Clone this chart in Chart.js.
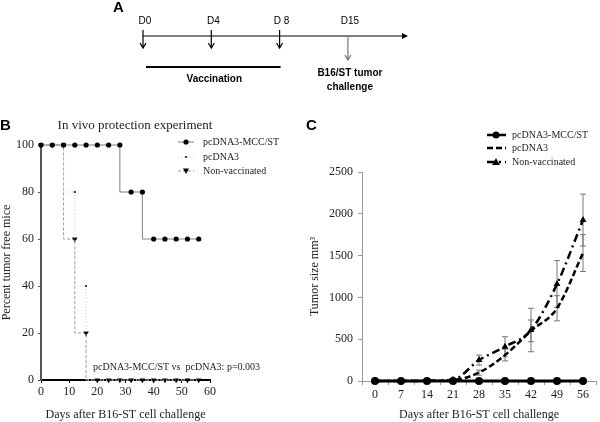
<!DOCTYPE html>
<html>
<head>
<meta charset="utf-8">
<script src="https://cdn.jsdelivr.net/npm/chart.js@4.4.0/dist/chart.umd.min.js"></script>
<style>
body { margin: 0; background: #fff; width: 600px; height: 422px; overflow: hidden; position: relative; }
canvas { position: absolute; }
</style>
</head>
<body>
<canvas id="chartA" width="600" height="110" style="left:0;top:0;width:600px;height:110px"></canvas>
<canvas id="chartB" width="300" height="312" style="left:0;top:110px;width:300px;height:312px"></canvas>
<canvas id="chartC" width="300" height="312" style="left:300px;top:110px;width:300px;height:312px"></canvas>
<script>
// --- panel A : schedule ---
const timelineLabels = ['D0', 'D4', 'D 8', 'D15'];
const vaccinationSteps = [0, 1, 2];
const challengeStep = 3;

// --- panel B : survival ---
const survivalDays = [0, 4, 8, 12, 16, 20, 24, 28, 32, 36, 40, 44, 48, 52, 56];
const mccSurvival = [100, 100, 100, 100, 100, 100, 100, 100, 80, 80, 60, 60, 60, 60, 60];
const pcSurvival = [100, 100, 100, 80, 40, 0, 0, 0, 0, 0, 0, 0, 0, 0, 0];
const nonVacSurvival = [100, 100, 100, 60, 20, 0, 0, 0, 0, 0, 0, 0, 0, 0, 0];
const survivalNote = 'pcDNA3-MCC/ST vs  pcDNA3: p=0.003';

// --- panel C : tumor growth ---
const tumorDays = ['0', '7', '14', '21', '28', '35', '42', '49', '56'];
const mccTumor = [0, 0, 0, 0, 0, 0, 0, 0, 0];
const pcTumor = [0, 0, 2, 10, 100, 310, 600, 870, 1530];
const pcErr = [0, 0, 0, 5, 30, 70, 130, 150, 220];
const nonVacTumor = [0, 0, 2, 15, 250, 410, 610, 1160, 1925];
const nonVacErr = [0, 0, 0, 5, 60, 120, 260, 280, 310];

const SERIF = "'Liberation Serif', 'Times New Roman', serif";
const SANS = "'Liberation Sans', Arial, sans-serif";

function panelLetter(ctx, t, x, y) {
    ctx.font = 'bold 15px ' + SANS;
    ctx.fillStyle = '#000';
    ctx.textAlign = 'left';
    ctx.textBaseline = 'middle';
    ctx.fillText(t, x, y);
}

function downArrow(ctx, x, y0, y1, color) {
    ctx.strokeStyle = color;
    ctx.lineWidth = 1.2;
    ctx.beginPath();
    ctx.moveTo(x, y0); ctx.lineTo(x, y1);
    ctx.moveTo(x - 3, y1 - 5); ctx.lineTo(x, y1); ctx.lineTo(x + 3, y1 - 5);
    ctx.stroke();
}

// ---------------- A ----------------
const timelinePlugin = {
    id: 'timeline',
    afterDraw(chart) {
        const ctx = chart.ctx, xs = chart.scales.x;
        const { left, right } = chart.chartArea;
        const axisY = 36;
        ctx.save();
        panelLetter(ctx, 'A', 113, 8);
        ctx.strokeStyle = '#000'; ctx.fillStyle = '#000'; ctx.lineWidth = 1;
        ctx.beginPath(); ctx.moveTo(left, axisY); ctx.lineTo(right - 4, axisY); ctx.stroke();
        ctx.beginPath(); ctx.moveTo(right, axisY); ctx.lineTo(right - 6, axisY - 3); ctx.lineTo(right - 6, axisY + 3); ctx.closePath(); ctx.fill();

        ctx.font = '10px ' + SANS;
        ctx.textAlign = 'center'; ctx.textBaseline = 'middle';
        timelineLabels.forEach((l, i) => {
            const px = xs.getPixelForValue(i);
            ctx.fillStyle = '#000';
            ctx.fillText(l, px + 2, 21);
        });
        vaccinationSteps.forEach(i => downArrow(ctx, xs.getPixelForValue(i), 30, 48, '#000'));
        const cx = xs.getPixelForValue(challengeStep);
        downArrow(ctx, cx, axisY, 60, '#777');

        const v0 = xs.getPixelForValue(vaccinationSteps[0]);
        const v1 = xs.getPixelForValue(vaccinationSteps[vaccinationSteps.length - 1]);
        ctx.strokeStyle = '#000'; ctx.lineWidth = 2;
        ctx.beginPath(); ctx.moveTo(v0 + 3, 67); ctx.lineTo(v1 + 1, 67); ctx.stroke();
        ctx.font = 'bold 10px ' + SANS; ctx.fillStyle = '#000';
        ctx.fillText('Vaccination', (v0 + v1) / 2 + 3, 79);
        ctx.fillText('B16/ST tumor', cx + 2, 73);
        ctx.fillText('challenge', cx + 2, 87);
        ctx.restore();
    }
};

new Chart(document.getElementById('chartA'), {
    type: 'scatter',
    data: { datasets: [{ data: timelineLabels.map((l, i) => ({ x: i, y: 0 })), pointRadius: 0 }] },
    options: {
        responsive: false, animation: false,
        layout: { padding: { left: 143, right: 192, top: 0, bottom: 0 } },
        scales: { x: { type: 'linear', min: 0, max: 3.88, display: false }, y: { display: false } },
        plugins: { legend: { display: false }, tooltip: { enabled: false } }
    },
    plugins: [timelinePlugin]
});

// ---------------- B ----------------
const survivalPlugin = {
    id: 'survivalExtras',
    afterDraw(chart) {
        const ctx = chart.ctx;
        ctx.save();
        panelLetter(ctx, 'B', 0, 16);
        ctx.fillStyle = '#222';
        ctx.font = '13px ' + SERIF;
        ctx.textAlign = 'center'; ctx.textBaseline = 'middle';
        ctx.fillText('In vivo protection experiment', 135, 16);

        // legend
        const rows = [32, 47, 61];
        ctx.font = '10px ' + SERIF; ctx.textAlign = 'left';
        chart.data.datasets.forEach((ds, i) => {
            const y = rows[i];
            ctx.strokeStyle = ds.borderColor; ctx.lineWidth = 1;
            ctx.setLineDash(ds.borderDash || []);
            ctx.beginPath(); ctx.moveTo(178, y); ctx.lineTo(194, y); ctx.stroke();
            ctx.setLineDash([]);
            ctx.fillStyle = '#000';
            ctx.beginPath();
            if (ds.pointStyle === 'triangle') {
                ctx.moveTo(183, y - 2.5); ctx.lineTo(189, y - 2.5); ctx.lineTo(186, y + 3);
            } else {
                ctx.arc(186, y, ds.pointRadius, 0, Math.PI * 2);
            }
            ctx.fill();
            ctx.fillStyle = '#222';
            ctx.fillText(ds.label, 203, y);
        });
        ctx.font = '10px ' + SERIF;
        ctx.fillText(survivalNote, 93, 257);
        ctx.restore();
    }
};

const toXY = (xs, ys) => xs.map((d, i) => ({ x: d, y: ys[i] }));
const plain = v => String(v);

new Chart(document.getElementById('chartB'), {
    type: 'line',
    data: {
        datasets: [
            { label: 'pcDNA3-MCC/ST', data: toXY(survivalDays, mccSurvival), stepped: 'after',
              borderColor: '#808080', borderWidth: 1, pointStyle: 'circle', pointRadius: 2.6,
              pointBackgroundColor: '#000', pointBorderColor: '#000', pointBorderWidth: 0, clip: false },
            { label: 'pcDNA3', data: toXY(survivalDays, pcSurvival), stepped: 'after',
              borderColor: '#cfcfcf', borderWidth: 1, borderDash: [1, 2], pointRadius: 1,
              pointBackgroundColor: '#000', pointBorderColor: '#000', pointBorderWidth: 0, clip: false },
            { label: 'Non-vaccinated', data: toXY(survivalDays, nonVacSurvival), stepped: 'after',
              borderColor: '#9a9a9a', borderWidth: 1, borderDash: [3, 2], pointStyle: 'triangle', rotation: 180,
              pointRadius: 3.2, pointBackgroundColor: '#000', pointBorderColor: '#000', pointBorderWidth: 0, clip: false }
        ]
    },
    options: {
        responsive: false, animation: false,
        layout: { padding: { left: 0, right: 90, top: 35, bottom: 0 } },
        scales: {
            x: {
                type: 'linear', min: 0, max: 60,
                ticks: { stepSize: 10, callback: plain, color: '#222', font: { family: SERIF, size: 12 }, padding: 2 },
                grid: { drawOnChartArea: false, tickLength: 3, color: '#000' },
                border: { color: '#000', width: 2 },
                title: { display: true, text: 'Days after B16-ST cell challenge', color: '#222',
                         font: { family: SERIF, size: 12 }, padding: { top: 0, bottom: 0 } },
                afterFit: s => { s.height = 42; }
            },
            y: {
                min: 0, max: 100,
                ticks: { stepSize: 20, callback: plain, color: '#222', font: { family: SERIF, size: 12 }, padding: 4 },
                grid: { drawOnChartArea: false, tickLength: 3, color: '#555' },
                border: { color: '#555', width: 2 },
                title: { display: true, text: 'Percent tumor free mice', color: '#222',
                         font: { family: SERIF, size: 12 }, padding: { top: 0, bottom: 0 } },
                afterFit: s => { s.width = 41; }
            }
        },
        plugins: { legend: { display: false }, tooltip: { enabled: false } }
    },
    plugins: [survivalPlugin]
});

// ---------------- C ----------------
const tumorPlugin = {
    id: 'tumorExtras',
    beforeDatasetsDraw(chart) {
        const { ctx, scales: { x, y } } = chart;
        ctx.save();
        ctx.strokeStyle = '#777'; ctx.lineWidth = 1;
        [[nonVacTumor, nonVacErr], [pcTumor, pcErr]].forEach(([vals, errs]) => {
            vals.forEach((v, i) => {
                if (!errs[i]) return;
                const px = x.getPixelForValue(i);
                const t = y.getPixelForValue(v + errs[i]);
                const b = y.getPixelForValue(v - errs[i]);
                ctx.beginPath();
                ctx.moveTo(px, t); ctx.lineTo(px, b);
                ctx.moveTo(px - 3, t); ctx.lineTo(px + 3, t);
                ctx.moveTo(px - 3, b); ctx.lineTo(px + 3, b);
                ctx.stroke();
            });
        });
        ctx.restore();
    },
    afterDraw(chart) {
        const ctx = chart.ctx;
        ctx.save();
        panelLetter(ctx, 'C', 6, 16);
        const rows = [25, 38, 52];
        ctx.font = '10px ' + SERIF; ctx.textAlign = 'left'; ctx.textBaseline = 'middle';
        chart.data.datasets.forEach((ds, i) => {
            const y = rows[i];
            ctx.strokeStyle = '#000'; ctx.lineWidth = 2.5;
            ctx.setLineDash(ds.borderDash || []);
            ctx.beginPath(); ctx.moveTo(187, y); ctx.lineTo(206, y); ctx.stroke();
            ctx.setLineDash([]);
            ctx.fillStyle = '#000';
            if (ds.pointRadius) {
                ctx.beginPath();
                if (ds.pointStyle === 'triangle') {
                    ctx.moveTo(196, y - 4); ctx.lineTo(200, y + 3); ctx.lineTo(192, y + 3);
                } else {
                    ctx.arc(196, y, 3.5, 0, Math.PI * 2);
                }
                ctx.fill();
            }
            ctx.fillStyle = '#222';
            ctx.fillText(ds.label, 212, y);
        });
        ctx.restore();
    }
};

new Chart(document.getElementById('chartC'), {
    type: 'line',
    data: {
        labels: tumorDays,
        datasets: [
            { label: 'pcDNA3-MCC/ST', data: mccTumor, borderColor: '#000', borderWidth: 3,
              pointStyle: 'circle', pointRadius: 4, pointBackgroundColor: '#000', pointBorderWidth: 0, clip: false },
            { label: 'pcDNA3', data: pcTumor, borderColor: '#000', borderWidth: 2.5, borderDash: [6, 3],
              pointRadius: 0, cubicInterpolationMode: 'monotone' },
            { label: 'Non-vaccinated', data: nonVacTumor, borderColor: '#000', borderWidth: 2.5, borderDash: [8, 4, 2, 4],
              pointStyle: 'triangle', pointRadius: 4, pointBackgroundColor: '#000', pointBorderWidth: 0,
              cubicInterpolationMode: 'monotone', clip: false }
        ]
    },
    options: {
        responsive: false, animation: false,
        layout: { padding: { left: 0, right: 1, top: 62, bottom: 0 } },
        scales: {
            x: {
                type: 'category', offset: true,
                ticks: { color: '#222', font: { family: SERIF, size: 12 }, padding: 3 },
                grid: { offset: true, drawOnChartArea: false, tickLength: 4, color: '#999' },
                border: { color: '#999', width: 1 },
                title: { display: true, text: 'Days after B16-ST cell challenge', color: '#222',
                         font: { family: SERIF, size: 12 }, padding: { top: 0, bottom: 0 } },
                afterFit: s => { s.height = 41; }
            },
            y: {
                min: 0, max: 2500,
                ticks: { stepSize: 500, callback: plain, color: '#222', font: { family: SERIF, size: 12 }, padding: 5 },
                grid: { drawOnChartArea: false, tickLength: 4, color: '#999' },
                border: { color: '#999', width: 1 },
                title: { display: true, text: 'Tumor size mm³', color: '#222',
                         font: { family: SERIF, size: 12 }, padding: { top: 8, bottom: 0 } },
                afterFit: s => { s.width = 62; }
            }
        },
        plugins: { legend: { display: false }, tooltip: { enabled: false } }
    },
    plugins: [tumorPlugin]
});
</script>
</body>
</html>
